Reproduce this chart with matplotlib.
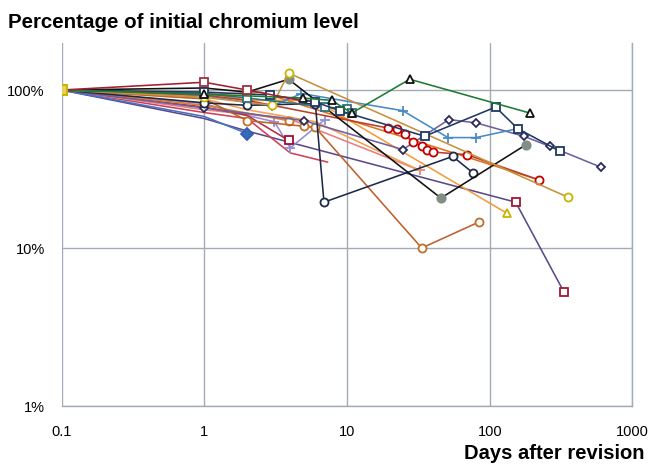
import matplotlib
matplotlib.use("Agg")
import matplotlib.pyplot as plt
from matplotlib.ticker import FixedLocator, NullLocator

plt.rcParams['font.family'] = ['Liberation Sans', 'DejaVu Sans']

# days after revision / percentage of initial chromium level, one pair per patient
green_days = [0.1, 1, 4.9, 7.8, 10.8, 27.5, 191]
green_pct = [100, 94, 89, 86, 71.5, 117, 71.5]

navy_sq_days = [0.1, 1, 2.9, 6.0, 8.9, 35, 110, 157, 310]
navy_sq_pct = [100, 97, 93, 84, 74, 51, 78, 57, 41]

teal_sq_days = [0.1, 1, 2, 7.0, 10, 10.8]
teal_sq_pct = [100, 95, 89, 78, 76, 71.5]

yellow_days = [0.1, 1, 3.0, 3.9, 352]
yellow_pct = [100, 90, 80, 128, 21]

black_days = [0.1, 1, 2, 3.9, 45.5, 179]
black_pct = [100, 103, 97, 117, 20.7, 45]

navy_ci_days = [0.1, 1, 2, 6.0, 6.9, 55, 76]
navy_ci_pct = [100, 83, 80, 82, 19.5, 38, 30]

red_ci_days = [0.1, 1, 2, 19.3, 22.3, 25.4, 28.9, 33.4, 36.2, 39.9, 69, 221]
red_ci_pct = [100, 93, 86, 57.5, 56.6, 53, 47, 44, 42, 40.5, 39, 27]

blue_days = [0.1, 1, 3.0, 4.8, 24.6, 51, 80, 157]
blue_pct = [100, 92, 79, 95, 74, 50, 50, 57]

purple_di_days = [0.1, 1, 5.0, 24.6, 51.7, 80, 173, 264, 600]
purple_di_pct = [100, 77, 64, 42, 65, 62, 51, 44, 32.5]

orange_tri_days = [0.1, 1, 2, 6.0, 132]
orange_tri_pct = [100, 97, 86, 86, 16.6]

brown_days = [0.1, 1, 2, 5.0, 6.0, 33.4, 84]
brown_pct = [100, 88, 64, 59, 58, 10, 14.6]

orange_ci_days = [0.1, 1, 3.9]
orange_ci_pct = [100, 80, 64]

purple_sq_days = [0.1, 1, 2, 152, 330]
purple_sq_pct = [100, 66, 55, 19.5, 5.3]

crimson_days = [0.1, 1, 2, 4.0, 7.3]
crimson_pct = [100, 72, 66, 40, 35]

darkred_days = [0.1, 1, 2, 3.9]
darkred_pct = [100, 78, 69, 48]

lavender_days = [0.1, 1, 2, 3.1, 4.0, 7.0]
lavender_pct = [100, 82, 69, 63, 43, 65]

salmon_days = [0.1, 1, 3.9, 32.4]
salmon_pct = [100, 75, 66, 31]

lightor_days = [0.1, 1, 2, 6.0, 32.4]
lightor_pct = [100, 88, 75, 63, 31]

tan_days = [0.1, 1, 2.5, 221]
tan_pct = [100, 93, 97, 27]

bluedi_days = [0.1, 1, 2]
bluedi_pct = [100, 68, 53]

white_sq_days = [0.1, 1, 2, 4.7]
white_sq_pct = [100, 112, 100, 86]

x_ticks = [0.1, 1, 10, 100, 1000]
x_labels = ['0.1', '1', '10', '100', '1000']
y_ticks = [1, 10, 100]
y_labels = ['1%', '10%', '100%']

# (days, pct, line colour, marker, marker edge, marker face, which points marked)
series = [
    (purple_sq_days, purple_sq_pct, '#5b4a8b', 's', '#a01830', 'white', [3, 4]),
    (crimson_days, crimson_pct, '#d0405a', None, None, None, None),
    (salmon_days, salmon_pct, '#e88080', '+', '#e88080', 'white', [3]),
    (lightor_days, lightor_pct, '#f5a050', None, None, None, None),
    (lavender_days, lavender_pct, '#9090d8', '+', '#9090d8', 'white', [3, 4, 5]),
    (darkred_days, darkred_pct, '#b03040', 's', '#a0102a', 'white', [3]),
    (bluedi_days, bluedi_pct, '#4472c4', 'D', '#3060b0', '#3a68c0', [2]),
    (orange_ci_days, orange_ci_pct, '#e07a30', 'o', '#d07020', 'white', [1, 2]),
    (brown_days, brown_pct, '#c0602a', 'o', '#c0702a', 'white', [2, 3, 4, 5, 6]),
    (orange_tri_days, orange_tri_pct, '#f39c3a', '^', '#c8b400', 'white', [1, 4]),
    (tan_days, tan_pct, '#e07020', None, None, None, None),
    (purple_di_days, purple_di_pct, '#7060a0', 'D', '#2a2a5a', 'white', None),
    (blue_days, blue_pct, '#4a8ac4', '+', '#4a8ac4', 'white', None),
    (red_ci_days, red_ci_pct, '#b8402a', 'o', '#c00000', 'white', None),
    (navy_ci_days, navy_ci_pct, '#1c2a48', 'o', '#1c2a48', 'white', None),
    (black_days, black_pct, '#111111', 'o', '#7f8f84', '#7f8f84', [3, 4, 5]),
    (yellow_days, yellow_pct, '#c8913c', 'o', '#c8b400', 'white', None),
    (teal_sq_days, teal_sq_pct, '#2f6f80', 's', '#2f6f80', 'white', None),
    (navy_sq_days, navy_sq_pct, '#203864', 's', '#203864', 'white', None),
    (green_days, green_pct, '#1e7b34', '^', '#111111', 'white', None),
    (white_sq_days, white_sq_pct, '#a02030', 's', '#a03040', 'white', [1, 2]),
]

fig = plt.figure(figsize=(6.51, 4.67), dpi=100)
ax = fig.add_axes([0.0945, 0.1306, 0.877, 0.777])

for d, p, c, m, me, mf, every in series:
    if m is None:
        ax.plot(d, p, color=c, lw=1.15, zorder=3)
    else:
        ms = {'+': 7, 'D': 4.5}.get(m, 5.8)
        if mf != 'white':
            ms = 6
        ax.plot(d, p, color=c, lw=1.15, marker=m, ms=ms, mec=me, mfc=mf,
                mew=1.3, markevery=every, zorder=3)

# start point marker shared by all series
ax.plot([green_days[0]], [green_pct[0]], marker='s', ms=6.5, mfc='#e8d060',
        mec='#c8b400', mew=1.4, zorder=5)

ax.set_xscale('log')
ax.set_yscale('log')
ax.set_xlim(0.1, 1000)
ax.set_ylim(1, 198)

ax.xaxis.set_major_locator(FixedLocator(x_ticks))
ax.xaxis.set_minor_locator(NullLocator())
ax.yaxis.set_major_locator(FixedLocator(y_ticks))
ax.yaxis.set_minor_locator(NullLocator())
ax.set_xticklabels(x_labels)
ax.set_yticklabels(y_labels)
ax.tick_params(length=0, labelsize=10.5, pad=14)
ax.tick_params(axis='y', pad=12)

ax.grid(True, color='#a3abb5', lw=1.0)
ax.set_axisbelow(True)
for s in ['top', 'left']:
    ax.spines[s].set_visible(False)
for s in ['bottom', 'right']:
    ax.spines[s].set_color('#a3abb5')
    ax.spines[s].set_linewidth(1.0)

fig.text(0.012, 0.952, 'Percentage of initial chromium level', fontsize=14.8,
         fontweight='bold', va='center', ha='left')
fig.text(0.99, 0.008, 'Days after revision', fontsize=14.5,
         fontweight='bold', va='bottom', ha='right')

fig.savefig('out.png', dpi=100)
